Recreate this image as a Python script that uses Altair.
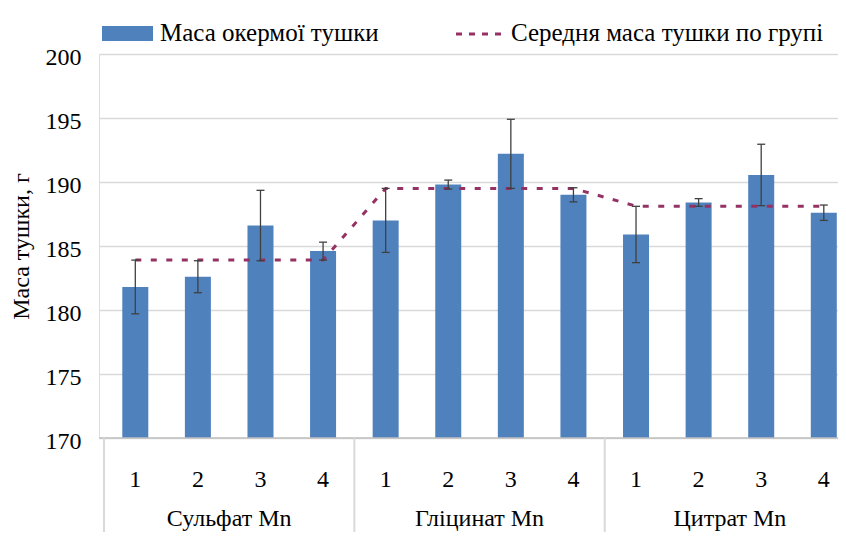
import altair as alt
import pandas as pd

# ---- data ----
GROUPS = ["Сульфат Mn", "Гліцинат Mn", "Цитрат Mn"]
SUBGROUPS = ["1", "2", "3", "4"]
MASS = [181.8, 182.6, 186.6, 184.6,
        187.0, 189.8, 192.2, 189.0,
        185.9, 188.4, 190.55, 187.6]
ERR = [2.1, 1.25, 2.75, 0.7,
       2.5, 0.35, 2.7, 0.55,
       2.2, 0.3, 2.4, 0.6]
LEGEND = ["Маса окермої тушки", "Середня маса тушки по групі"]
Y_TITLE = "Маса тушки, г"
Y_TICKS = [170, 175, 180, 185, 190, 195, 200]

FONT = "Liberation Serif"
BAR_COLOR = "#4f81bd"
LINE_COLOR = "#953264"
ERR_COLOR = "#404040"

n_sub = len(SUBGROUPS)
rows = []
for gi, g in enumerate(GROUPS):
    vals = MASS[gi * n_sub:(gi + 1) * n_sub]
    gmean = sum(vals) / len(vals)
    for si, s in enumerate(SUBGROUPS):
        i = gi * n_sub + si
        rows.append({"idx": i, "group": g, "sub": s, "mass": MASS[i],
                     "lo": MASS[i] - ERR[i], "hi": MASS[i] + ERR[i],
                     "mean": gmean})
df = pd.DataFrame(rows)
grp_df = pd.DataFrame({"group": GROUPS,
                       "center": [gi * n_sub + (n_sub - 1) / 2 for gi in range(len(GROUPS))]})
sep_df = pd.DataFrame({"pos": [gi * n_sub - 0.5 for gi in range(len(GROUPS))]})

W, H = 739, 384
PAD_BOTTOM = 94
n = len(MASS)
# the reference plot runs past the right edge of the picture: only ~11.65 of 12 slots fit
xscale = alt.Scale(domain=[-0.5, n - 0.853], nice=False, zero=False)
yscale = alt.Scale(domain=[Y_TICKS[0], Y_TICKS[-1]], zero=False, nice=False)

X = alt.X("idx:Q", scale=xscale, axis=None)

base = alt.Chart(df)

bars = base.mark_bar(size=26, color=BAR_COLOR).encode(
    x=X,
    y=alt.Y("mass:Q", scale=yscale,
            axis=alt.Axis(values=Y_TICKS, domain=False, ticks=False,
                          grid=True, gridColor="#d9d9d9", gridWidth=1.3,
                          labelFont=FONT, labelFontSize=24, labelColor="black",
                          labelPadding=18, labelOffset=3,
                          title=Y_TITLE, titleFont=FONT, titleFontSize=24,
                          titleFontWeight="normal", titleColor="black",
                          titlePadding=12)),
    y2=alt.datum(Y_TICKS[0]),
)

axis_line = alt.Chart(pd.DataFrame({"v": [Y_TICKS[0]]})).mark_rule(
    color="#bfbfbf", strokeWidth=1.5).encode(y=alt.Y("v:Q", scale=yscale))

mean_line = base.mark_line(color=LINE_COLOR, strokeWidth=3,
                           strokeDash=[6, 9.5]).encode(
    x=X, y=alt.Y("mean:Q", scale=yscale))

err_v = base.mark_rule(color=ERR_COLOR, strokeWidth=1.3).encode(
    x=X, y=alt.Y("lo:Q", scale=yscale), y2="hi:Q")
cap_hi = base.mark_rule(color=ERR_COLOR, strokeWidth=1.3,
                        xOffset=-4, x2Offset=4).encode(
    x=X, x2="idx:Q", y=alt.Y("hi:Q", scale=yscale))
cap_lo = base.mark_rule(color=ERR_COLOR, strokeWidth=1.3,
                        xOffset=-4, x2Offset=4).encode(
    x=X, x2="idx:Q", y=alt.Y("lo:Q", scale=yscale))

sub_labels = base.mark_text(font=FONT, fontSize=24, color="black",
                            baseline="alphabetic").encode(
    x=X, y=alt.value(433), text="sub:N")

grp_labels = alt.Chart(grp_df).mark_text(font=FONT, fontSize=24, color="black",
                                         baseline="alphabetic").encode(
    x=alt.X("center:Q", scale=xscale, axis=None),
    y=alt.value(H + PAD_BOTTOM - 6), text="group:N")

separators = alt.Chart(sep_df).mark_rule(color="#d9d9d9", strokeWidth=2).encode(
    x=alt.X("pos:Q", scale=xscale, axis=None),
    y=alt.value(H), y2=alt.value(H + PAD_BOTTOM))

leg1 = pd.DataFrame({"label": [LEGEND[0]]})
leg2 = pd.DataFrame({"label": [LEGEND[1]]})
leg_rect = alt.Chart(leg1).mark_rect(color=BAR_COLOR).encode(
    x=alt.value(3), x2=alt.value(54), y=alt.value(-28), y2=alt.value(-13))
leg_text1 = alt.Chart(leg1).mark_text(font=FONT, fontSize=25, color="black",
                                      align="left", baseline="alphabetic").encode(
    x=alt.value(61), y=alt.value(-13), text="label:N")
leg_line = alt.Chart(leg2).mark_rule(color=LINE_COLOR, strokeWidth=3,
                                     strokeDash=[6, 7]).encode(
    x=alt.value(357), x2=alt.value(407), y=alt.value(-20))
leg_text2 = alt.Chart(leg2).mark_text(font=FONT, fontSize=25, color="black",
                                      align="left", baseline="alphabetic").encode(
    x=alt.value(412), y=alt.value(-13), text="label:N")

chart = alt.layer(
    bars, axis_line, separators, mean_line, err_v, cap_hi, cap_lo,
    sub_labels, grp_labels, leg_rect, leg_text1, leg_line, leg_text2,
).properties(
    width=W, height=H,
    autosize=alt.AutoSizeParams(type="none"),
    padding={"left": 91, "top": 46, "right": 0, "bottom": PAD_BOTTOM},
).configure_view(stroke=None).configure(background="white")

chart.save("out.html", embed_options={"renderer": "svg", "actions": False})
